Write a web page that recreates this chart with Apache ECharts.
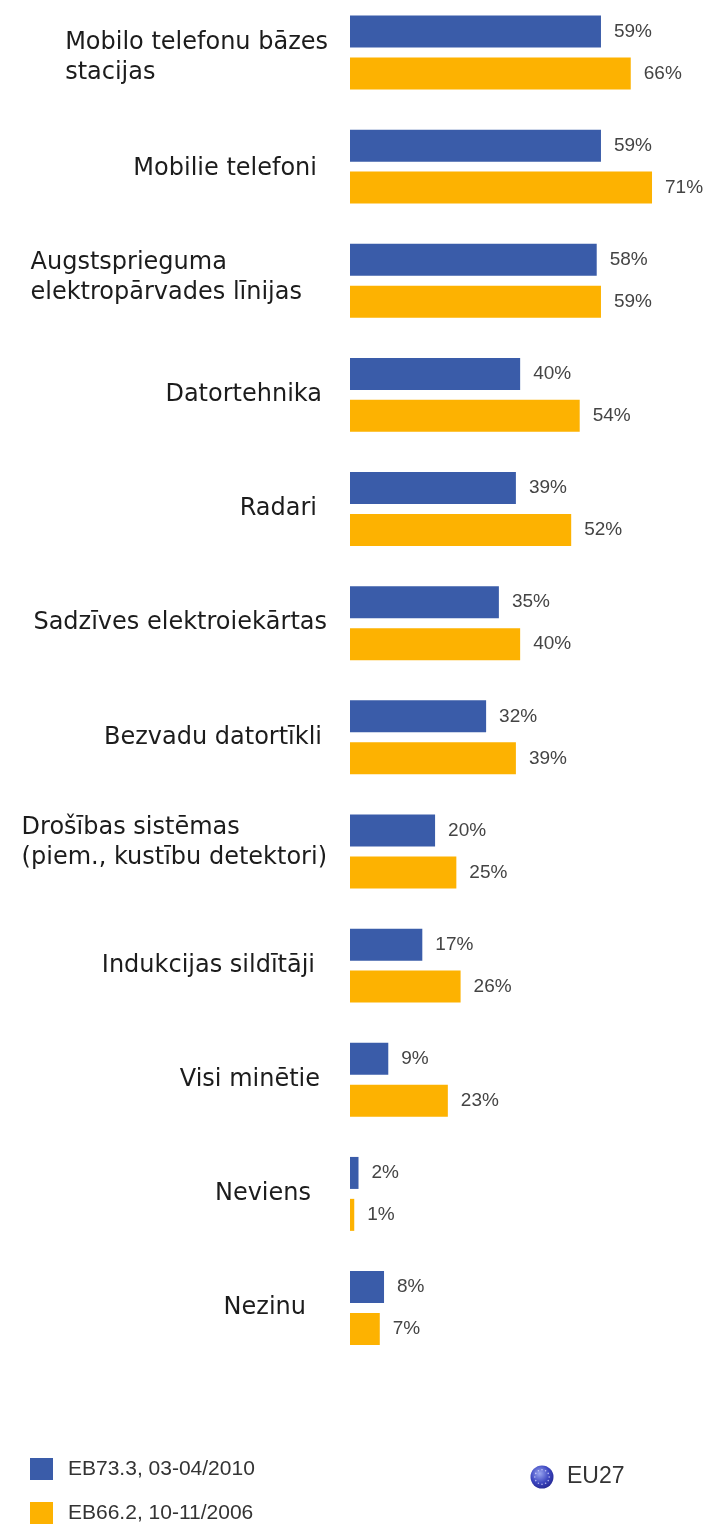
<!DOCTYPE html>
<html>
<head>
<meta charset="utf-8">
<script src="https://cdn.jsdelivr.net/npm/echarts@6/dist/echarts.min.js"></script>
<style>
  html, body { margin: 0; padding: 0; background: #ffffff; }
  #chart { width: 708px; height: 1524px; }
</style>
</head>
<body>
<div id="chart"></div>
<script>
// Sources of electromagnetic fields people are concerned about (EU27)
const categories = [
  'Mobilo telefonu bāzes\nstacijas',
  'Mobilie telefoni',
  'Augstsprieguma\nelektropārvades līnijas',
  'Datortehnika',
  'Radari',
  'Sadzīves elektroiekārtas',
  'Bezvadu datortīkli',
  'Drošības sistēmas\n(piem., kustību detektori)',
  'Indukcijas sildītāji',
  'Visi minētie',
  'Neviens',
  'Nezinu'
];
const seriesNames = ['EB73.3, 03-04/2010', 'EB66.2, 10-11/2006'];
const values2010 = [59, 59, 58, 40, 39, 35, 32, 20, 17, 9, 2, 8];
const values2006 = [66, 71, 59, 54, 52, 40, 39, 25, 26, 23, 1, 7];
const regionLabel = 'EU27';

// hand-set nudges for the category labels (px pulled left, px moved down)
const labelPullLeft = [2, 13, 28, 8, 13, 3, 8, 3, 15, 10, 19, 24];
const labelDrop = [5, 2, -3, 0, 0, 0, 0, -9, 0, 0, 0, 0];

const BLUE = '#3a5ca9';
const ORANGE = '#fdb201';
const SANS = '"Liberation Sans", Arial, sans-serif';
const LABEL_FONT = '"DejaVu Sans", Verdana, sans-serif';

const chart = echarts.init(document.getElementById('chart'), null, { renderer: 'canvas' });

// wrap every line of a category name in the same rich style so that
// multi-line names stay left-aligned inside a right-aligned block
function wrapLines(name) {
  return name.split('\n').map(function (l) { return '{a|' + l + '}'; }).join('\n');
}

const categoryItems = categories.map(function (name, i) {
  const dy = labelDrop[i];
  return {
    value: name,
    textStyle: {
      padding: [dy > 0 ? 2 * dy : 0, labelPullLeft[i], dy < 0 ? -2 * dy : 0, 0]
    }
  };
});

const valueLabel = {
  show: true,
  position: 'right',
  distance: 13,
  formatter: '{c}%',
  fontFamily: SANS,
  fontSize: 19,
  color: '#444444'
};

// small ring of stars on the EU globe
const stars = [];
for (let i = 0; i < 12; i++) {
  const a = i * Math.PI / 6;
  stars.push({
    type: 'circle',
    shape: { cx: 542 + 7.2 * Math.cos(a), cy: 1477 + 7.2 * Math.sin(a), r: 0.8 },
    style: { fill: 'rgba(220,220,255,0.75)' },
    silent: true
  });
}

chart.setOption({
  animation: false,
  backgroundColor: '#ffffff',
  grid: {
    left: 350,
    top: -4.6,
    width: 340.3,
    height: 1369.7,
    containLabel: false,
    outerBoundsMode: 'none'
  },
  xAxis: {
    type: 'value',
    min: 0,
    max: 80,
    show: false
  },
  yAxis: {
    type: 'category',
    inverse: true,
    data: categoryItems,
    axisLine: { show: false },
    axisTick: { show: false },
    splitLine: { show: false },
    axisLabel: {
      margin: 20,
      formatter: wrapLines,
      rich: {
        a: {
          fontFamily: LABEL_FONT,
          fontSize: 24,
          lineHeight: 30,
          align: 'left',
          color: '#1c1c1c'
        }
      }
    }
  },
  legend: {
    orient: 'vertical',
    left: 30,
    top: 1458,
    padding: 0,
    itemWidth: 23,
    itemHeight: 22,
    itemGap: 22,
    icon: 'rect',
    data: seriesNames,
    textStyle: {
      fontFamily: SANS,
      fontSize: 21,
      lineHeight: 22,
      color: '#333333',
      padding: [0, 0, 0, 10]
    }
  },
  graphic: [
    {
      type: 'circle',
      shape: { cx: 542, cy: 1477, r: 11.5 },
      style: {
        fill: {
          type: 'radial', x: 0.4, y: 0.35, r: 0.75,
          colorStops: [
            { offset: 0, color: '#9aa6f0' },
            { offset: 0.55, color: '#3c46c0' },
            { offset: 1, color: '#20228a' }
          ]
        }
      },
      silent: true
    }
  ].concat(stars).concat([
    {
      type: 'text',
      left: 567,
      top: 1465,
      style: {
        text: regionLabel,
        fontFamily: SANS,
        fontSize: 23,
        fill: '#333333'
      },
      silent: true
    }
  ]),
  series: [
    {
      name: seriesNames[0],
      type: 'bar',
      data: values2010,
      barWidth: 32,
      barGap: '31%',
      itemStyle: { color: BLUE },
      label: valueLabel
    },
    {
      name: seriesNames[1],
      type: 'bar',
      data: values2006,
      barWidth: 32,
      itemStyle: { color: ORANGE },
      label: valueLabel
    }
  ]
});
</script>
</body>
</html>
